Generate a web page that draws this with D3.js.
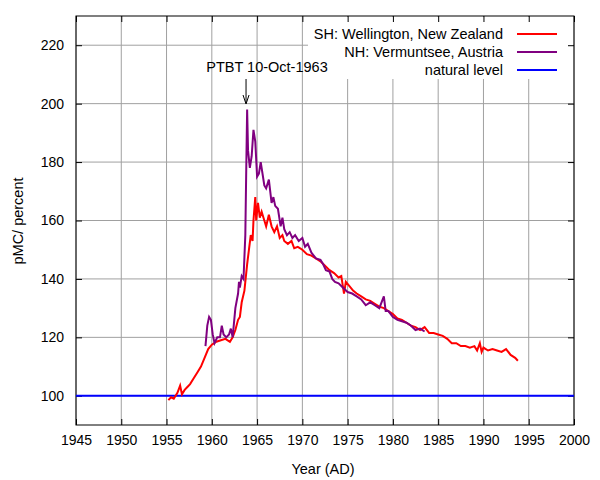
<!DOCTYPE html><html><head><meta charset="utf-8"><script src="https://cdn.jsdelivr.net/npm/d3@7"></script>
<style>body{margin:0;background:#fff}text{font-family:"Liberation Sans",Arial,sans-serif;font-size:14.5px}</style></head><body><svg id="c" width="600" height="480"></svg><script>
const shYears=[1955.2,1955.5,1955.8,1956.2,1956.5,1956.7,1957,1957.3,1957.6,1958,1958.4,1958.8,1959.2,1959.6,1960,1960.5,1961,1961.5,1962,1962.3,1962.6,1962.9,1963.1,1963.3,1963.6,1963.9,1964.1,1964.3,1964.5,1964.6,1964.8,1964.9,1965.1,1965.3,1965.5,1965.8,1966,1966.3,1966.6,1966.9,1967.2,1967.5,1967.8,1968,1968.4,1968.8,1969.1,1969.5,1970,1970.5,1971,1971.5,1972,1972.5,1973,1973.5,1974,1974.3,1974.6,1974.8,1975.2,1975.6,1976,1976.5,1977,1977.5,1978,1978.5,1979,1979.5,1980,1980.5,1981,1981.5,1982,1982.5,1983,1983.5,1984,1984.5,1985,1985.5,1986,1986.5,1987,1987.5,1988,1988.5,1989,1989.3,1989.6,1989.8,1990,1990.5,1991,1991.5,1992,1992.5,1993,1993.5,1993.8];
const shValues=[98.5,99.5,99,101,103.5,100.5,102,103,104,106,108,110,113,116,117.5,118.5,119,119.5,118.5,120,122.5,126,127,132,136,145,150,155,153,160,168,160,166,161,163,160,158,162,158,156,158,154,155,153,152,153,150.5,151,150,148.5,148,147,146,144.5,143,142,140.5,141,135,139,137.5,136,135,134,133,132.5,131.5,130.5,130,129,128,126.5,126,125,124,123.5,122.5,123.5,121.5,121.5,121,120.5,119.5,118,118,117,117,116.5,117,115.5,118,115,116.5,115.5,116,115.5,115,116,114,113,112];
const nhYears=[1959.3,1959.5,1959.7,1959.9,1960.1,1960.3,1960.6,1960.9,1961.1,1961.3,1961.6,1961.9,1962.1,1962.3,1962.6,1962.9,1963.0,1963.1,1963.3,1963.5,1963.7,1963.8,1963.9,1964.0,1964.2,1964.4,1964.6,1964.8,1965.0,1965.2,1965.4,1965.6,1965.8,1966.0,1966.3,1966.6,1966.8,1967.0,1967.3,1967.6,1967.8,1968.0,1968.3,1968.6,1968.9,1969.2,1969.6,1970,1970.3,1970.6,1971,1971.5,1972,1972.3,1972.6,1973,1973.3,1973.6,1974,1974.5,1975,1975.5,1976,1976.5,1977,1977.5,1978,1978.5,1979,1979.2,1979.5,1980,1980.5,1981,1981.5,1982,1982.5,1983,1983.5];
const nhValues=[117,124,127,126,121,118,120,120,124,121,120,121,123,120,130,135,139,137,141,140,155,177,198,184,178,182,191,187,175,176,180,176,172,171,174,166,168,165,164,158,161,157,155,156,154,155,153,154,151,152,149,147,146.5,145,143,142.5,140,139,138.5,137,135.5,135,134,133,131,132,131,130,134,129,129,127,126,125.5,125,124,122.5,123,122];
const xTicks=[1945,1950,1955,1960,1965,1970,1975,1980,1985,1990,1995,2000];
const yTicks=[100,120,140,160,180,200,220];
const naturalLevel=100;
const legendLabels=["SH: Wellington, New Zealand","NH: Vermuntsee, Austria","natural level"];
const colors=["#ff0000","#800080","#0000ff"];

const svg=d3.select("#c");
const L=76,R=574,T=16,B=425;
const x=d3.scaleLinear().domain([1945,2000]).range([L,R]);
const y=d3.scaleLinear().domain([90,230]).range([B,T]);
const g=svg.append("g");
xTicks.forEach(t=>g.append("line").attr("x1",x(t)).attr("x2",x(t)).attr("y1",T).attr("y2",B).attr("stroke","#a0a0a0"));
yTicks.forEach(t=>g.append("line").attr("x1",L).attr("x2",R).attr("y1",y(t)).attr("y2",y(t)).attr("stroke","#a0a0a0"));
svg.append("rect").attr("x",308).attr("y",T+1).attr("width",R-309).attr("height",62).attr("fill","#fff");
svg.append("rect").attr("x",L).attr("y",T).attr("width",R-L).attr("height",B-T).attr("fill","none").attr("stroke","#000");
svg.append("g").attr("transform",`translate(0,${B})`).call(d3.axisBottom(x).tickValues(xTicks).tickFormat(d3.format("d")).tickSizeInner(-6).tickSizeOuter(0).tickPadding(10)).call(a=>{a.select(".domain").remove();a.selectAll("text").style("font-size","14px")});
svg.append("g").attr("transform",`translate(0,${T})`).call(d3.axisTop(x).tickValues(xTicks).tickFormat("").tickSizeInner(-6).tickSizeOuter(0)).select(".domain").remove();
svg.append("g").attr("transform",`translate(${L},0)`).call(d3.axisLeft(y).tickValues(yTicks).tickSizeInner(-6).tickSizeOuter(0).tickPadding(12)).call(a=>{a.select(".domain").remove();a.selectAll("text").style("font-size","14px")});
svg.append("g").attr("transform",`translate(${R},0)`).call(d3.axisRight(y).tickValues(yTicks).tickFormat("").tickSizeInner(-6).tickSizeOuter(0)).select(".domain").remove();
const line=d3.line().x(d=>x(d[0])).y(d=>y(d[1]));
svg.append("line").attr("x1",L).attr("x2",R).attr("y1",y(naturalLevel)).attr("y2",y(naturalLevel)).attr("stroke",colors[2]).attr("stroke-width",2);
svg.append("path").datum(shYears.map((v,i)=>[v,shValues[i]])).attr("d",line).attr("fill","none").attr("stroke",colors[0]).attr("stroke-width",2);
svg.append("path").datum(nhYears.map((v,i)=>[v,nhValues[i]])).attr("d",line).attr("fill","none").attr("stroke",colors[1]).attr("stroke-width",2);
legendLabels.forEach((l,i)=>{const yy=34+i*18;
svg.append("text").attr("x",503).attr("y",yy+5).attr("text-anchor","end").text(l);
svg.append("line").attr("x1",517).attr("x2",557).attr("y1",yy).attr("y2",yy).attr("stroke",colors[i]).attr("stroke-width",2);});
svg.append("text").attr("x",267).attr("y",72).attr("text-anchor","middle").text("PTBT 10-Oct-1963");
const ax=x(1963.78);
svg.append("line").attr("x1",ax).attr("x2",ax).attr("y1",79).attr("y2",103).attr("stroke","#000");
svg.append("path").attr("d",`M${ax-3},95L${ax},104L${ax+3},95`).attr("fill","none").attr("stroke","#000");
svg.append("text").attr("x",323).attr("y",474).attr("text-anchor","middle").text("Year (AD)");
svg.append("text").attr("transform","translate(23,221) rotate(-90)").attr("text-anchor","middle").text("pMC/ percent");
</script></body></html>
